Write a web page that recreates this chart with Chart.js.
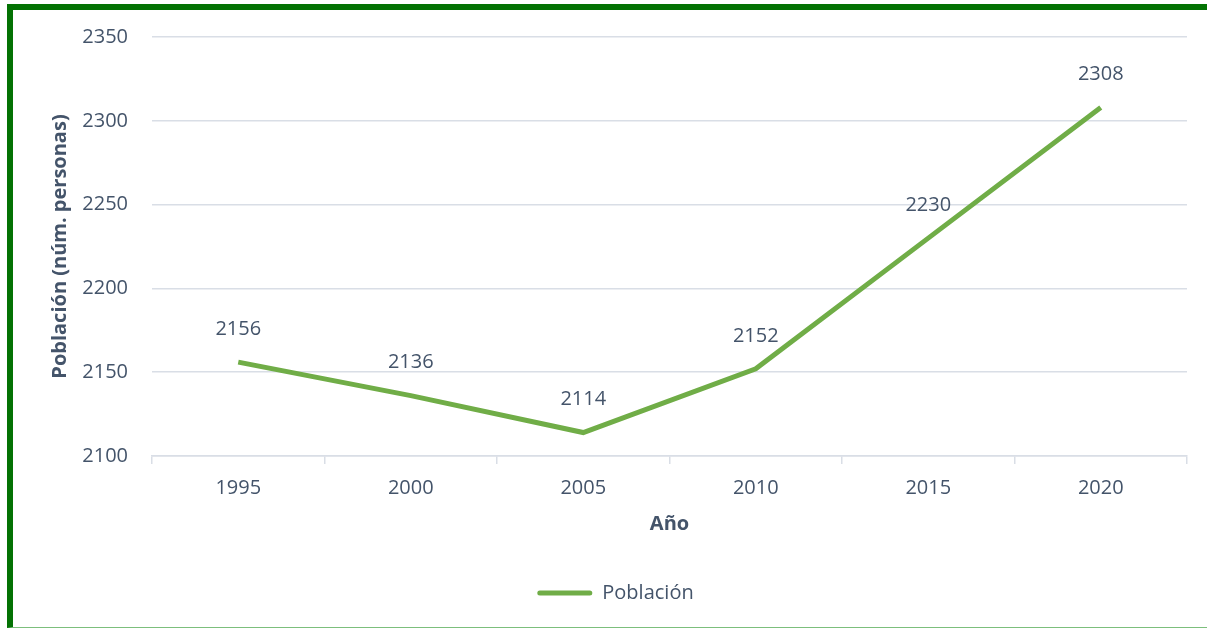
<!DOCTYPE html>
<html>
<head>
<meta charset="utf-8">
<script src="https://cdn.jsdelivr.net/npm/chart.js@4"></script>
<style>
  html, body { margin: 0; padding: 0; background: #fff; overflow: hidden; }
  #marco {
    position: absolute; left: 7px; top: 4px; width: 1220px; height: 617px;
    border-left: 6px solid #037203; border-top: 6px solid #037203;
    border-bottom: 1px solid #7cbf7c;
  }
  #wrap { position: absolute; left: 0; top: 0; width: 1207px; height: 629px; }
</style>
</head>
<body>
<div id="marco"></div>
<div id="wrap"><canvas id="grafico"></canvas></div>
<script>
// Datos del gráfico
const anios = ['1995', '2000', '2005', '2010', '2015', '2020'];
const poblacion = [2156, 2136, 2114, 2152, 2230, 2308];
const ticksY = [2100, 2150, 2200, 2250, 2300, 2350];

const colorTexto = '#44546a';
const colorLinea = '#70ad47';
const colorGrid = '#d9dee6';
const fuente = "'Open Sans', sans-serif";

// Etiquetas de valor encima de cada punto
const etiquetas = {
    id: 'etiquetas',
    afterDatasetsDraw(chart) {
        const ctx = chart.ctx;
        const meta = chart.getDatasetMeta(0);
        ctx.save();
        ctx.font = '20px ' + fuente;
        ctx.fillStyle = colorTexto;
        ctx.textAlign = 'center';
        ctx.textBaseline = 'middle';
        meta.data.forEach((pt, i) => {
            ctx.fillText(String(poblacion[i]), pt.x, pt.y - 33);
        });
        ctx.restore();
    }
};

// Mover la leyenda un poco a la derecha, como en el original
const moverLeyenda = {
    id: 'moverLeyenda',
    afterLayout(chart) {
        chart.legend.left += 22;
        chart.legend.right += 22;
    }
};

const ctx = document.getElementById('grafico').getContext('2d');
const chart = new Chart(ctx, {
    type: 'line',
    data: {
        labels: anios,
        datasets: [{
            label: 'Población',
            data: poblacion,
            borderColor: colorLinea,
            backgroundColor: colorLinea,
            borderWidth: 5,
            pointRadius: 0,
            tension: 0,
            fill: false
        }]
    },
    options: {
        responsive: true,
        maintainAspectRatio: false,
        animation: false,
        layout: { padding: { left: 0, right: 20, top: 37, bottom: 16 } },
        plugins: {
            tooltip: { enabled: false },
            legend: {
                position: 'bottom',
                labels: {
                    color: colorTexto,
                    font: { family: fuente, size: 20 },
                    boxWidth: 55,
                    boxHeight: 5,
                    padding: 14,
                    generateLabels: () => [{
                        text: 'Población',
                        fillStyle: colorLinea,
                        strokeStyle: colorLinea,
                        lineWidth: 0,
                        borderRadius: 2.5,
                        fontColor: colorTexto
                    }]
                }
            }
        },
        scales: {
            x: {
                offset: true,
                grid: { offset: true, drawOnChartArea: false, color: colorGrid, tickLength: 8, lineWidth: 1.5 },
                border: { color: colorGrid, width: 1.5 },
                ticks: { color: colorTexto, font: { family: fuente, size: 20 }, padding: 12 },
                title: { display: true, text: 'Año', color: colorTexto, font: { family: fuente, size: 20, weight: 'bold' }, padding: { top: 0, bottom: 33 } }
            },
            y: {
                min: 2100,
                max: 2350,
                afterBuildTicks: (scale) => { scale.ticks = ticksY.map(v => ({ value: v })); },
                afterFit: (scale) => { scale.width = 152; },
                grid: { color: colorGrid, drawTicks: false, lineWidth: 1.5 },
                border: { display: false },
                ticks: { color: colorTexto, font: { family: fuente, size: 20 }, padding: 24, callback: (v) => String(v) },
                title: { display: true, text: 'Población (núm. personas)', color: colorTexto, font: { family: fuente, size: 20, weight: 'bold' }, padding: { top: 48, bottom: 0 } }
            }
        }
    },
    plugins: [etiquetas, moverLeyenda]
});
</script>
</body>
</html>
